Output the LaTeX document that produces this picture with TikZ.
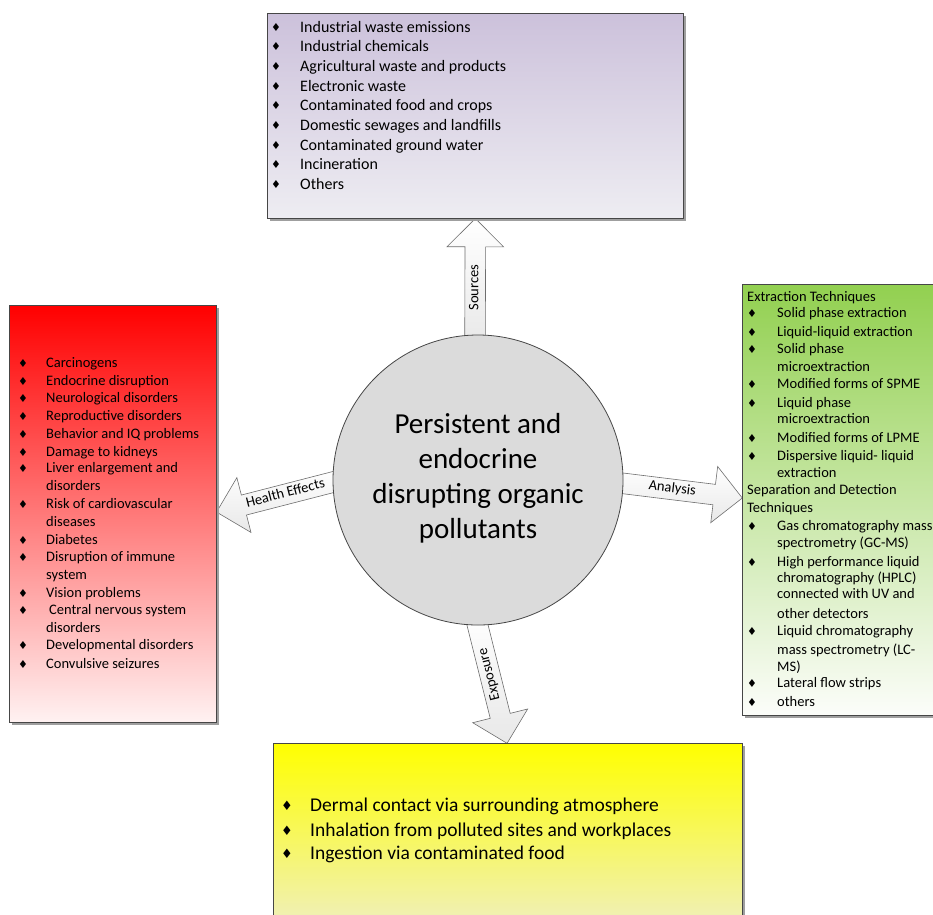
\documentclass[tikz,border=0pt]{standalone}
\usepackage{fontspec}
\setmainfont{Carlito}
\newfontfamily\symfont{DejaVu Sans}
\usetikzlibrary{shapes.arrows,shadows,calc,backgrounds}
\definecolor{edge}{RGB}{70,70,70}
\definecolor{lavtop}{RGB}{204,193,219}
\definecolor{lavbot}{RGB}{238,237,242}
\definecolor{redtop}{RGB}{255,0,0}
\definecolor{redbot}{RGB}{255,242,242}
\definecolor{grntop}{RGB}{146,208,80}
\definecolor{grnbot}{RGB}{252,253,250}
\definecolor{yeltop}{RGB}{255,255,0}
\definecolor{yelbot}{RGB}{238,238,205}
\definecolor{circfill}{RGB}{219,219,219}
\definecolor{arrowedge}{RGB}{110,110,110}
\newcommand\blockarrow[5]{%
  \path let \p1=(#2), \p2=(#3),
    \n1={atan2(\y2-\y1,\x2-\x1)}, \n2={veclen(\x2-\x1,\y2-\y1)} in
    node[barrow, minimum height=\n2, rotate=\n1+#5, shape border rotate=#5,
         anchor=tail] (#1) at (#2) {#4};
}
\begin{document}
\begin{tikzpicture}[x=1pt,y=-1pt,
  box/.style={draw=edge, line width=0.8pt, inner sep=0pt, anchor=north west,
    drop shadow={shadow xshift=3pt, shadow yshift=-3pt, fill=gray!75, opacity=1}},
  barrow/.style={shape=single arrow, draw=arrowedge, line width=0.6pt,
    top color=white, bottom color=gray!18,
    single arrow head extend=18pt, single arrow tip angle=90,
    single arrow head indent=0pt, inner xsep=0pt, inner ysep=4.25pt,
    text height=9pt, text depth=2.5pt, font=\fontsize{14.5}{16}\selectfont},
  bul/.style={inner sep=0pt, font=\symfont\fontsize{11}{11}\selectfont},
  bigbul/.style={inner sep=0pt, font=\symfont\fontsize{13}{13}\selectfont},
  txtA/.style={inner sep=0pt, anchor=base west, font=\fontsize{16}{19.5}\selectfont},
  txtB/.style={inner sep=0pt, anchor=base west, font=\fontsize{14.5}{17.7}\selectfont},
  txtC/.style={inner sep=0pt, anchor=base west, font=\fontsize{19.5}{24}\selectfont},
]
\useasboundingbox (0,0) rectangle (933,914);

% boxes
\node[box, top color=lavtop, bottom color=lavbot, minimum width=416pt, minimum height=205pt] (src) at (267,13) {};
\node[box, top color=redtop, bottom color=redbot, minimum width=207pt, minimum height=417pt] (hl) at (9,305) {};
\node[box, top color=grntop, bottom color=grnbot, minimum width=205pt, minimum height=431pt] (an) at (742,284) {};
\node[box, top color=yeltop, bottom color=yelbot, minimum width=469pt, minimum height=200pt] (ex) at (273,743) {};

% centre circle
\node[circle, draw=edge, line width=0.8pt, fill=circfill, minimum size=290pt, inner sep=0pt] (c) at (478,480) {};
\node[align=center, inner sep=0pt, font=\fontsize{29}{35}\selectfont] (ctext) at (478,478)
  {Persistent and\\endocrine\\disrupting organic\\pollutants};

% arrows
\coordinate (srcTail) at ($(c.north)+(-3,12)$);
\coordinate (srcTip) at (src.south);
\coordinate (hlTail) at (345,479);
\coordinate (hlTip) at ($(hl.north east)+(0,207)$);
\coordinate (anTail) at (612,482);
\coordinate (anTip) at ($(an.north west)+(0,214)$);
\coordinate (exTail) at (475,615);
\coordinate (exTip) at ($(ex.north west)+(234,0)$);
\begin{scope}[on background layer]
\blockarrow{aSrc}{srcTail}{srcTip}{Sources}{0}
\blockarrow{aHl}{hlTail}{hlTip}{Health Effects}{180}
\blockarrow{aAn}{anTail}{anTip}{Analysis}{0}
\blockarrow{aEx}{exTail}{exTip}{Exposure}{180}
\end{scope}

% top box
\foreach \y/\t in {27/Industrial waste emissions, 46/Industrial chemicals,
  66/Agricultural waste and products, 86/Electronic waste,
  105/Contaminated food and crops, 125/Domestic sewages and landfills,
  145/Contaminated ground water, 164/Incineration, 184/Others}
{ \node[bul] (sb\y) at (276,\y) {♦};
  \node[txtA] (st\y) at (300,\y+5) {\t}; }

% left box
\foreach \y in {363,381,398,416,434,452,468,504,540,557,593,610,645,664}
{ \node[bul] (hb\y) at (23,\y) {♦}; }
\foreach \x/\y/\t in {46/363/Carcinogens, 46/381/Endocrine disruption,
  46/398/Neurological disorders, 46/416/Reproductive disorders,
  46/434/Behavior and IQ problems, 46/452/Damage to kidneys,
  46/468/Liver enlargement and, 46/486/disorders,
  46/504/Risk of cardiovascular, 46/522/diseases, 46/540/Diabetes,
  46/557/Disruption of immune, 46/575/system, 46/593/Vision problems,
  49/610/Central nervous system, 46/628/disorders,
  46/645/Developmental disorders, 46/664/Convulsive seizures}
{ \node[txtB] (ht\y) at (\x,\y+4.5) {\t}; }

% right box
\foreach \y in {313,332,349,384,403,438,456,526,562,631,683,702}
{ \node[bul] (ab\y) at (752,\y) {♦}; }
\foreach \x/\y/\t in {747/297/Extraction Techniques,
  777/313/Solid phase extraction, 777/332/Liquid-liquid extraction,
  777/349/Solid phase, 777/367/microextraction,
  777/384/Modified forms of SPME, 777/403/Liquid phase,
  777/419/microextraction, 777/438/Modified forms of LPME,
  777/456/Dispersive liquid- liquid, 777/473/extraction,
  747/490/Separation and Detection, 747/508/Techniques,
  777/526/Gas chromatography mass, 777/543/spectrometry (GC-MS),
  777/562/High performance liquid, 777/578/chromatography (HPLC),
  777/594/connected with UV and, 777/614/other detectors,
  777/631/Liquid chromatography, 777/650/mass spectrometry (LC-,
  777/667/MS), 777/683/Lateral flow strips, 777/702/others}
{ \node[txtB] (at\y) at (\x,\y+4.5) {\t}; }

% bottom box
\foreach \y/\t in {806/Dermal contact via surrounding atmosphere,
  831/Inhalation from polluted sites and workplaces,
  854/Ingestion via contaminated food}
{ \node[bigbul] (eb\y) at (287,\y) {♦};
  \node[txtC] (et\y) at (310,\y+5.5) {\t}; }
\end{tikzpicture}
\end{document}
